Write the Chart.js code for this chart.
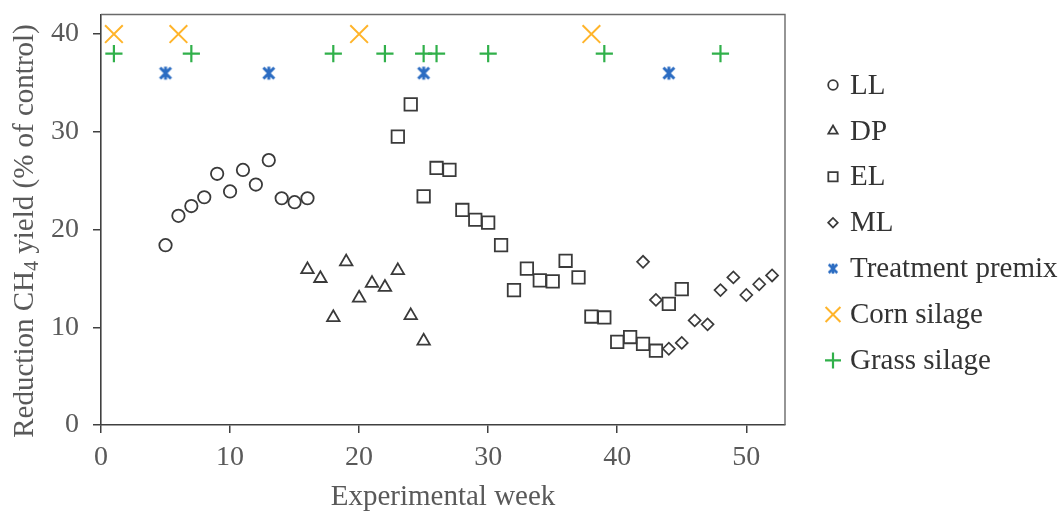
<!DOCTYPE html>
<html><head><meta charset="utf-8">
<script src="https://cdn.jsdelivr.net/npm/chart.js@4/dist/chart.umd.min.js"></script>
<style>html,body{margin:0;padding:0;background:#fff}canvas{display:block}</style>
</head><body>
<canvas id="c" width="1063" height="512"></canvas>
<script>
// ---- data ----
const llWeeks = [5, 6, 7, 8, 9, 10, 11, 12, 13, 14, 15, 16];
const llValues = [18.4, 21.4, 22.4, 23.3, 25.7, 23.9, 26.1, 24.6, 27.1, 23.2, 22.8, 23.2];
const dpWeeks = [16, 17, 18, 19, 20, 21, 22, 23, 24, 25];
const dpValues = [15.9, 15.0, 11.0, 16.7, 13.0, 14.5, 14.1, 15.8, 11.2, 8.6];
const elWeeks = [23, 24, 25, 26, 27, 28, 29, 30, 31, 32, 33, 34, 35, 36, 37, 38, 39, 40, 41, 42, 43, 44, 45];
const elValues = [29.5, 32.8, 23.4, 26.3, 26.1, 22.0, 21.0, 20.7, 18.4, 13.8, 16.0, 14.8, 14.7, 16.8, 15.1, 11.1, 11.0, 8.5, 9.0, 8.3, 7.6, 12.4, 13.9];
const mlWeeks = [42, 43, 44, 45, 46, 47, 48, 49, 50, 51, 52];
const mlValues = [16.7, 12.8, 7.8, 8.4, 10.7, 10.3, 13.8, 15.1, 13.3, 14.4, 15.3];
const premixWeeks = [5, 13, 25, 44];
const premixValues = [36, 36, 36, 36];
const cornWeeks = [1, 6, 20, 38];
const cornValues = [40, 40, 40, 40];
const grassWeeks = [1, 7, 18, 22, 25, 26, 30, 39, 48];
const grassValues = [38, 38, 38, 38, 38, 38, 38, 38, 38];
const seriesNames = ['LL', 'DP', 'EL', 'ML', 'Treatment premix', 'Corn silage', 'Grass silage'];
const xTicks = [0, 10, 20, 30, 40, 50];
const yTicks = [0, 10, 20, 30, 40];
const xTitle = 'Experimental week';

// ---- styles ----
const SERIF = '"Liberation Serif", "Times New Roman", serif';
const DARK = '#3a3a3a';
const BLUE = '#2b6cc2';
const ORANGE = '#ffb42a';
const GREEN = '#30b04a';

function asterisk(size, half, lw) {
  const c = document.createElement('canvas');
  c.width = size; c.height = size;
  const g = c.getContext('2d');
  g.strokeStyle = BLUE; g.lineWidth = lw; g.lineCap = 'butt';
  const m = size / 2, a = half;
  g.beginPath();
  g.moveTo(m, m - a); g.lineTo(m, m + a);
  const d = a * 0.85;
  g.moveTo(m - d, m - d); g.lineTo(m + d, m + d);
  g.moveTo(m + d, m - d); g.lineTo(m - d, m + d);
  g.stroke();
  return c;
}
const starBig = asterisk(18, 6.4, 3);
const starSmall = asterisk(14, 5, 2.6);

const pts = (xs, ys) => xs.map((x, i) => ({ x: x, y: ys[i] }));

const datasets = [
  { label: seriesNames[0], data: pts(llWeeks, llValues), pointStyle: 'circle', pointRadius: 6.2, borderColor: DARK, borderWidth: 1.8, legendR: 4.8 },
  { label: seriesNames[1], data: pts(dpWeeks, dpValues), pointStyle: 'triangle', pointRadius: 7.2, borderColor: DARK, borderWidth: 1.8, legendR: 5.4 },
  { label: seriesNames[2], data: pts(elWeeks, elValues), pointStyle: 'rect', pointRadius: 8.8, borderColor: DARK, borderWidth: 1.8, legendR: 6.6 },
  { label: seriesNames[3], data: pts(mlWeeks, mlValues), pointStyle: 'rectRot', pointRadius: 6, borderColor: DARK, borderWidth: 1.7, legendR: 4.8 },
  { label: seriesNames[4], data: pts(premixWeeks, premixValues), pointStyle: starBig, pointRadius: 9, borderColor: BLUE, borderWidth: 2, legendImg: starSmall },
  { label: seriesNames[5], data: pts(cornWeeks, cornValues), pointStyle: 'crossRot', pointRadius: 12.5, borderColor: ORANGE, borderWidth: 2, legendR: 10.5 },
  { label: seriesNames[6], data: pts(grassWeeks, grassValues), pointStyle: 'cross', pointRadius: 8.6, borderColor: GREEN, borderWidth: 2.2, legendR: 8 }
];
datasets.forEach(d => { d.backgroundColor = 'rgba(0,0,0,0)'; d.pointHoverRadius = d.pointRadius; d.showLine = false; d.clip = false; });

const framePlugin = {
  id: 'frame',
  afterDraw(chart) {
    const { ctx, chartArea: a } = chart;
    ctx.save();
    ctx.strokeStyle = '#6a6a6a';
    ctx.lineWidth = 1.4;
    ctx.beginPath();
    ctx.moveTo(a.left, a.top); ctx.lineTo(a.right, a.top); ctx.lineTo(a.right, a.bottom);
    ctx.stroke();

    // y-axis title with subscript
    ctx.fillStyle = '#595959';
    ctx.translate(23, 231);
    ctx.rotate(-Math.PI / 2);
    ctx.textBaseline = 'alphabetic';
    const big = '29px ' + SERIF, small = '20px ' + SERIF;
    const p1 = 'Reduction CH', p2 = '4', p3 = ' yield (% of control)';
    ctx.font = big; const w1 = ctx.measureText(p1).width, w3 = ctx.measureText(p3).width;
    ctx.font = small; const w2 = ctx.measureText(p2).width;
    let x = -(w1 + w2 + w3) / 2;
    const base = 9.5;
    ctx.font = big; ctx.fillText(p1, x, base); x += w1;
    ctx.font = small; ctx.fillText(p2, x, base + 5); x += w2;
    ctx.font = big; ctx.fillText(p3, x, base);
    ctx.restore();

    // legend
    ctx.save();
    const lx = 833, tx = 850, y0 = 85, step = 45.9;
    ctx.font = '29px ' + SERIF;
    ctx.textBaseline = 'middle';
    chart.data.datasets.forEach((d, i) => {
      const y = y0 + i * step;
      ctx.strokeStyle = d.borderColor;
      ctx.fillStyle = 'rgba(0,0,0,0)';
      ctx.lineWidth = d.borderWidth;
      if (d.legendImg) {
        Chart.helpers.drawPoint(ctx, { pointStyle: d.legendImg, radius: 7, rotation: 0, borderWidth: 0 }, lx, y);
      } else {
        Chart.helpers.drawPoint(ctx, { pointStyle: d.pointStyle, radius: d.legendR, rotation: 0, borderWidth: d.borderWidth }, lx, y);
      }
      ctx.fillStyle = '#333333';
      ctx.fillText(d.label, tx, y + 1);
    });
    ctx.restore();
  }
};

new Chart(document.getElementById('c'), {
  type: 'scatter',
  data: { datasets: datasets },
  plugins: [framePlugin],
  options: {
    responsive: false,
    animation: false,
    devicePixelRatio: 1,
    layout: { padding: { left: 0, right: 278, top: 14, bottom: 0 } },
    plugins: { legend: { display: false }, tooltip: { enabled: false } },
    scales: {
      x: {
        type: 'linear', min: 0, max: 53,
        afterBuildTicks: s => { s.ticks = xTicks.map(v => ({ value: v })); },
        afterFit: s => { s.height = 87; s.paddingLeft = 0; s.paddingRight = 0; },
        grid: { drawOnChartArea: false, drawTicks: true, tickLength: 8, color: '#404040', lineWidth: 1.5 },
        border: { display: true, color: '#404040', width: 1.6 },
        ticks: { color: '#595959', font: { family: SERIF, size: 28 }, padding: 8, maxRotation: 0 },
        title: { display: true, text: xTitle, color: '#595959', font: { family: SERIF, size: 29, lineHeight: 1 }, padding: { top: -16, bottom: 0 } }
      },
      y: {
        type: 'linear', min: 0, max: 42,
        afterBuildTicks: s => { s.ticks = yTicks.map(v => ({ value: v })); },
        afterFit: s => { s.width = 101; s.paddingTop = 0; s.paddingBottom = 0; },
        grid: { drawOnChartArea: false, drawTicks: true, tickLength: 8, color: '#404040', lineWidth: 1.5 },
        border: { display: true, color: '#404040', width: 1.6 },
        ticks: { color: '#595959', font: { family: SERIF, size: 28 }, padding: 14 }
      }
    }
  }
});
</script>
</body></html>
